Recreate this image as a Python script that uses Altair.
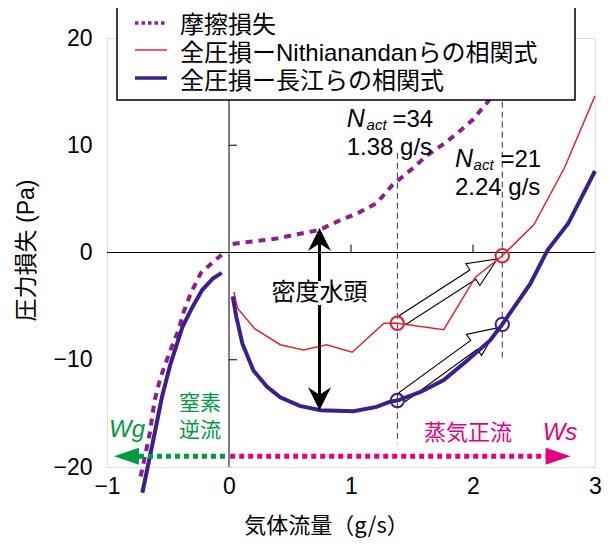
import math
import altair as alt
import pandas as pd

# ---------------- data ----------------
fric_left_x = [-0.06, -0.23, -0.31, -0.37, -0.42, -0.49, -0.56, -0.61, -0.65, -0.73]
fric_left_y = [-0.2, -1.9, -3.7, -5.5, -7.4, -9.4, -11.6, -13.8, -16.9, -21.2]
fric_right_x = [0.03, 0.39, 0.56, 0.74, 0.89, 1.06, 1.21, 1.34, 1.49, 1.63, 1.77, 1.90, 2.00, 2.11, 2.20]
fric_right_y = [0.8, 1.3, 1.7, 2.1, 2.9, 3.7, 4.6, 6.3, 7.7, 9.1, 10.2, 11.4, 12.4, 13.9, 15.2]

red_x = [0.04, 0.07, 0.21, 0.42, 0.61, 0.80, 1.01, 1.27, 1.38, 1.76, 2.02, 2.24, 2.50, 2.75, 3.00]
red_y = [-3.7, -5.2, -7.1, -8.6, -9.1, -8.6, -9.3, -6.6, -6.6, -7.2, -2.3, -0.3, 2.6, 7.9, 14.6]

blue_left_x = [-0.06, -0.13, -0.22, -0.30, -0.38, -0.48, -0.55, -0.61, -0.71]
blue_left_y = [-1.9, -2.4, -3.5, -5.1, -6.9, -10.4, -13.5, -16.9, -22.4]
blue_right_x = [0.03, 0.06, 0.11, 0.20, 0.31, 0.42, 0.58, 0.75, 1.02, 1.21, 1.32, 1.38,
                1.57, 1.76, 1.95, 2.14, 2.24, 2.47, 2.61, 2.78, 3.00]
blue_right_y = [-4.1, -6.0, -8.5, -11.0, -12.5, -13.5, -14.3, -14.7, -14.8, -14.4, -13.9, -13.8,
                -13.0, -11.9, -10.1, -8.2, -6.7, -2.9, 0.2, 2.7, 7.6]

op_x = [1.38, 2.24]          # operating points
op_red_y = [-6.6, -0.3]
op_blue_y = [-13.8, -6.7]

dash_top = [9.3, 15.0]
dash_bottom = [-17.8, -9.85]

head_x = 0.742               # density head arrow
head_top = 2.28
head_bottom = -14.7

flow_y = -19.0
green_tip = -0.943
pink_tip = 2.80

x_ticks = [-1, 0, 1, 2, 3]
y_ticks = [-20, -10, 0, 10, 20]

legend_labels = ["摩擦損失", "全圧損ーNithianandanらの相関式", "全圧損ー長江らの相関式"]

# ---------------- style ----------------
PURPLE = "#8e1e8c"
RED = "#e8202e"
BLUE = "#3c1f8c"
GREEN = "#009944"
PINK = "#e4007f"
FONT = "Liberation Sans, Noto Sans CJK JP"
JFONT = "Noto Sans CJK JP"

W, H = 488, 429
XMIN, XMAX, YMIN, YMAX = -1.0, 3.0, -20.0, 20.0


def px(x):
    return (x - XMIN) / (XMAX - XMIN) * W


def py(y):
    return (YMAX - y) / (YMAX - YMIN) * H


def inv_x(p):
    return XMIN + p / W * (XMAX - XMIN)


def inv_y(p):
    return YMAX - p / H * (YMAX - YMIN)


def ddx(p):
    return p / W * (XMAX - XMIN)


def ddy(p):
    return p / H * (YMAX - YMIN)


xs = alt.Scale(domain=[XMIN, XMAX], nice=False, zero=False)
ys = alt.Scale(domain=[YMIN, YMAX], nice=False, zero=False)

AX = alt.Axis(
    values=x_ticks, ticks=False, domain=False, grid=False, labelFlush=False,
    labelOverlap=False, labelFontSize=23, labelFont="Liberation Sans", labelColor="black",
    labelPadding=8, title="気体流量（g/s）", titleFont=JFONT, titleFontSize=22,
    titleFontWeight="normal", titleColor="black", titleX=219, titleY=58,
    titleBaseline="middle", titleAlign="center")
AY = alt.Axis(
    values=y_ticks, ticks=False, domain=False, grid=False, labelFlush=False,
    labelOverlap=False, labelFontSize=23, labelFont="Liberation Sans", labelColor="black",
    labelPadding=15, title="圧力損失 (Pa)", titleFont=FONT, titleFontSize=23,
    titleFontWeight="normal", titleColor="black", titleX=-81, titleY=212,
    titleAngle=-90, titleBaseline="middle", titleAlign="center")


def X(field="x"):
    return alt.X(f"{field}:Q", scale=xs, axis=AX)


def Y(field="y"):
    return alt.Y(f"{field}:Q", scale=ys, axis=AY)


one = pd.DataFrame({"a": [0]})

# zero lines
zero_h = alt.Chart(pd.DataFrame({"x": [XMIN], "x2": [XMAX], "y": [0.0]})).mark_rule(
    color="black", strokeWidth=1).encode(x=X(), x2="x2:Q", y=Y())
zero_v = alt.Chart(pd.DataFrame({"x": [0.0], "y": [YMIN], "y2": [YMAX]})).mark_rule(
    color="black", strokeWidth=1).encode(x=X(), y=Y(), y2="y2:Q")

# inner ticks on the zero lines
tick_len = 8
xt = pd.DataFrame({"x": [1.0, 2.0], "y": [0.0, 0.0], "y2": [ddy(tick_len)] * 2})
yt = pd.DataFrame({"x": [0.0, 0.0], "x2": [ddx(tick_len)] * 2, "y": [-10.0, 10.0]})
ticks_x = alt.Chart(xt).mark_rule(color="black", strokeWidth=1).encode(x=X(), y=Y(), y2="y2:Q")
ticks_y = alt.Chart(yt).mark_rule(color="black", strokeWidth=1).encode(x=X(), x2="x2:Q", y=Y())

# dashed verticals
dash_df = pd.DataFrame({"x": op_x, "y": dash_top, "y2": dash_bottom})
dashes = alt.Chart(dash_df).mark_rule(color="#333333", strokeWidth=1, strokeDash=[6, 4]).encode(
    x=X(), y=Y(), y2="y2:Q")


# block arrows between operating points
def block_arrow(x1, y1, x2, y2, gap=6.0, head_len=29.0, head_half=13.0, body_half=5.5):
    sx, sy, ex, ey = px(x1), py(y1), px(x2), py(y2)
    dxp, dyp = ex - sx, ey - sy
    D = math.hypot(dxp, dyp)
    ux, uy = dxp / D, dyp / D
    L = D - 2 * gap
    cx, cy = (sx + ex) / 2, (sy + ey) / 2
    ang = math.degrees(math.atan2(ux, -uy)) % 360
    s = L / 2
    hb = -1 + head_len / s
    b = body_half / s
    h = head_half / s
    path = (f"M0,-1L{h:.4f},{hb:.4f}L{b:.4f},{hb:.4f}L{b:.4f},1L{-b:.4f},1"
            f"L{-b:.4f},{hb:.4f}L{-h:.4f},{hb:.4f}Z")
    return {"x": inv_x(cx), "y": inv_y(cy), "shape": path, "size": L * L, "angle": ang}


arrows_df = pd.DataFrame([
    block_arrow(op_x[0], op_red_y[0], op_x[1], op_red_y[1]),
    block_arrow(op_x[0], op_blue_y[0], op_x[1], op_blue_y[1]),
])
block_arrows = alt.Chart(arrows_df).mark_point(
    filled=True, fill="white", stroke="black", strokeWidth=1.1, opacity=1).encode(
    x=X(), y=Y(), shape=alt.Shape("shape:N", scale=None),
    size=alt.Size("size:Q", scale=None), angle=alt.Angle("angle:Q", scale=None))


# curves
def series(xv, yv, part):
    return pd.DataFrame({"x": xv, "y": yv, "part": part, "i": range(len(xv))})


fric_df = pd.concat([series(fric_left_x, fric_left_y, "L"), series(fric_right_x, fric_right_y, "R")])
red_df = series(red_x, red_y, "R")
blue_df = pd.concat([series(blue_left_x, blue_left_y, "L"), series(blue_right_x, blue_right_y, "R")])

red_line = alt.Chart(red_df).mark_line(color=RED, strokeWidth=1.5).encode(
    x=X(), y=Y(), order="i:Q", detail="part:N")
blue_line = alt.Chart(blue_df).mark_line(color=BLUE, strokeWidth=4).encode(
    x=X(), y=Y(), order="i:Q", detail="part:N")
fric_line = alt.Chart(fric_df).mark_line(color=PURPLE, strokeWidth=4, strokeDash=[7, 6]).encode(
    x=X(), y=Y(), order="i:Q", detail="part:N")

# operating-point circles
circ_red = alt.Chart(pd.DataFrame({"x": op_x, "y": op_red_y})).mark_point(
    shape="circle", size=180, color=RED, strokeWidth=2, filled=False, opacity=1).encode(x=X(), y=Y())
circ_blue = alt.Chart(pd.DataFrame({"x": op_x, "y": op_blue_y})).mark_point(
    shape="circle", size=180, color=BLUE, strokeWidth=2, filled=False, opacity=1).encode(x=X(), y=Y())

# density-head double arrow
text_mid = -3.78
gap_half = ddy(12)
head_size = 23.0
stealth = "M0,-1L1,1L0,0.35L-1,1Z"
shaft_df = pd.DataFrame({
    "x": [head_x, head_x],
    "y": [head_top - ddy(head_size / 2), text_mid - gap_half],
    "y2": [text_mid + gap_half, head_bottom + ddy(head_size / 2)],
})
shaft = alt.Chart(shaft_df).mark_rule(color="black", strokeWidth=3).encode(x=X(), y=Y(), y2="y2:Q")
heads_df = pd.DataFrame({
    "x": [head_x, head_x],
    "y": [head_top - ddy(head_size / 2), head_bottom + ddy(head_size / 2)],
    "angle": [0, 180],
})
heads = alt.Chart(heads_df).mark_point(
    shape=stealth, size=head_size ** 2, filled=True, color="black", opacity=1, strokeWidth=0).encode(
    x=X(), y=Y(), angle=alt.Angle("angle:Q", scale=None))
head_text = alt.Chart(pd.DataFrame({"x": [head_x], "y": [text_mid], "t": ["密度水頭"]})).mark_text(
    font=JFONT, fontSize=24, color="black", baseline="middle", align="center").encode(
    x=X(), y=Y(), text="t:N")

# flow-direction arrows
flow_lines = pd.DataFrame({
    "x": [green_tip + ddx(25), 0.01], "x2": [-0.01, pink_tip - ddx(25)],
    "y": [flow_y, flow_y], "c": [GREEN, PINK]})
flow = alt.Chart(flow_lines).mark_rule(strokeWidth=5, strokeDash=[5, 4]).encode(
    x=X(), x2="x2:Q", y=Y(), color=alt.Color("c:N", scale=None))
green_head = alt.Chart(pd.DataFrame({"x": [green_tip + ddx(12.5)], "y": [flow_y]})).mark_point(
    shape="M-1,0L1,-0.68L1,0.68Z", size=625, filled=True, color=GREEN, opacity=1, strokeWidth=0).encode(
    x=X(), y=Y())
pink_head = alt.Chart(pd.DataFrame({"x": [pink_tip - ddx(12.5)], "y": [flow_y]})).mark_point(
    shape="M1,0L-1,-0.68L-1,0.68Z", size=625, filled=True, color=PINK, opacity=1, strokeWidth=0).encode(
    x=X(), y=Y())

green_txt = alt.Chart(pd.DataFrame({"x": [-0.238, -0.238], "y": [-14.15, -16.6], "t": ["窒素", "逆流"]})).mark_text(
    font=JFONT, fontSize=21, color=GREEN, baseline="middle", align="center").encode(x=X(), y=Y(), text="t:N")
wg_txt = alt.Chart(pd.DataFrame({"x": [-0.836], "y": [-17.2], "t": ["Wg"]})).mark_text(
    font="Liberation Sans", fontSize=24, fontStyle="italic", color=GREEN, baseline="alphabetic",
    align="center").encode(x=X(), y=Y(), text="t:N")
pink_txt = alt.Chart(pd.DataFrame({"x": [1.959], "y": [-16.83], "t": ["蒸気正流"]})).mark_text(
    font=JFONT, fontSize=22, color=PINK, baseline="middle", align="center").encode(x=X(), y=Y(), text="t:N")
ws_txt = alt.Chart(pd.DataFrame({"x": [2.713], "y": [-17.45], "t": ["Ws"]})).mark_text(
    font="Liberation Sans", fontSize=24, fontStyle="italic", color=PINK, baseline="alphabetic",
    align="center").encode(x=X(), y=Y(), text="t:N")

# N_act annotations
n_df = pd.DataFrame({"x": [0.965, 1.852], "y": [11.70, 7.97], "t": ["N", "N"]})
act_df = pd.DataFrame({"x": [1.128, 2.005], "y": [11.70, 7.97], "t": ["act", "act"]})
eq_df = pd.DataFrame({"x": [1.34, 2.225], "y": [11.70, 7.97], "t": ["=34", "=21"]})
gs_df = pd.DataFrame({"x": [0.965, 1.852], "y": [9.09, 5.36], "t": ["1.38 g/s", "2.24 g/s"]})
n_txt = alt.Chart(n_df).mark_text(font="Liberation Sans", fontSize=25, fontStyle="italic", color="black",
                                   align="left", baseline="alphabetic").encode(x=X(), y=Y(), text="t:N")
act_txt = alt.Chart(act_df).mark_text(font="Liberation Sans", fontSize=15, fontStyle="italic", color="black",
                                       align="left", baseline="alphabetic", dy=3).encode(x=X(), y=Y(), text="t:N")
eq_txt = alt.Chart(eq_df).mark_text(font="Liberation Sans", fontSize=24, color="black",
                                     align="left", baseline="alphabetic").encode(x=X(), y=Y(), text="t:N")
gs_txt = alt.Chart(gs_df).mark_text(font="Liberation Sans", fontSize=24, color="black",
                                     align="left", baseline="alphabetic").encode(x=X(), y=Y(), text="t:N")

# legend (manual, drawn over the plot frame)
leg_box = alt.Chart(one).mark_rect(fill="white", stroke="black", strokeWidth=1.5).encode(
    x=alt.value(10), x2=alt.value(468), y=alt.value(-33), y2=alt.value(62))
leg_fric = alt.Chart(one).mark_rule(color=PURPLE, strokeWidth=3.5, strokeDash=[3.5, 3]).encode(
    x=alt.value(28), x2=alt.value(60), y=alt.value(-15))
leg_red = alt.Chart(one).mark_rule(color=RED, strokeWidth=1.5).encode(
    x=alt.value(28), x2=alt.value(60), y=alt.value(12))
leg_blue = alt.Chart(one).mark_rule(color=BLUE, strokeWidth=3.5).encode(
    x=alt.value(28), x2=alt.value(60), y=alt.value(40))
leg_texts = [
    alt.Chart(one).mark_text(font=FONT, fontSize=24, color="black", align="left", baseline="middle").encode(
        x=alt.value(73), y=alt.value(yy), text=alt.value(lab))
    for lab, yy in zip(legend_labels, [-12, 16, 44])
]

chart = alt.layer(
    zero_h, zero_v, ticks_x, ticks_y, dashes, block_arrows,
    red_line, fric_line, blue_line, circ_red, circ_blue,
    shaft, heads, head_text,
    flow, green_head, pink_head, green_txt, wg_txt, pink_txt, ws_txt,
    n_txt, act_txt, eq_txt, gs_txt,
    leg_box, leg_fric, leg_red, leg_blue, *leg_texts,
).properties(
    width=W, height=H,
    autosize=alt.AutoSizeParams(type="none"),
    padding={"left": 99, "top": 30, "right": 7, "bottom": 74},
).configure_view(stroke="black", strokeWidth=1.5).configure(background="white")

chart.save("out.html", embed_options={"renderer": "svg", "actions": False})
